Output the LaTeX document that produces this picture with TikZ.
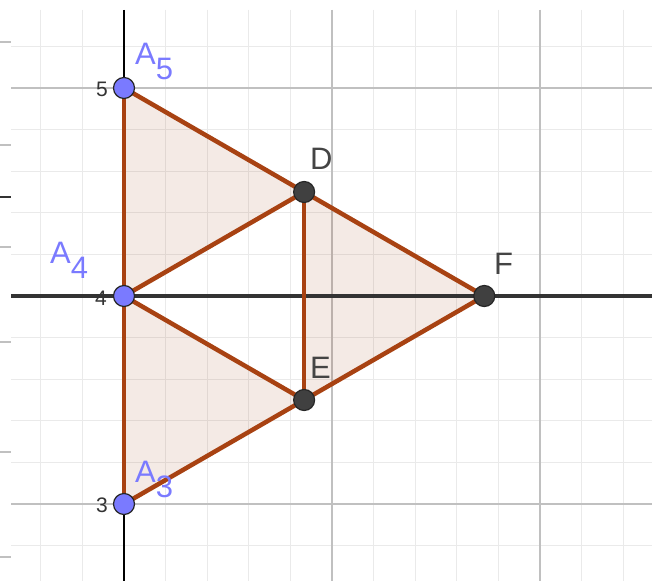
\documentclass[tikz,border=0pt]{standalone}
\usepackage{fontspec}
\setmainfont{Liberation Sans}
\definecolor{minorc}{RGB}{234,234,234}
\definecolor{majorc}{RGB}{192,192,192}
\definecolor{edgec}{RGB}{168,66,18}
\definecolor{fillc}{RGB}{153,51,0}
\definecolor{bluec}{RGB}{122,122,255}
\definecolor{ptdark}{RGB}{64,64,64}
\definecolor{labc}{RGB}{68,68,68}
\begin{document}
\begin{tikzpicture}[x=1bp,y=-1bp,
  minorgrid/.style={draw=minorc,line width=0.9bp},
  majorgrid/.style={draw=majorc,line width=1.3bp},
  stripmark/.style={draw=majorc,line width=1.3bp},
  darkmark/.style={draw=black!80,line width=2bp},
  axisline/.style={draw=black,line width=1.5bp},
  hline/.style={draw=black!80,line width=3.5bp},
  polyfill/.style={fill=fillc,fill opacity=0.1},
  edge/.style={draw=edgec,line width=4.5bp,line join=round,line cap=round},
  bluept/.style={circle,fill=bluec,draw=black!85,line width=1.2bp,minimum size=21bp,inner sep=0pt},
  darkpt/.style={circle,fill=ptdark,draw=black!85,line width=1.2bp,minimum size=21bp,inner sep=0pt},
  ptlab/.style={anchor=base west,inner sep=0pt,font=\fontsize{31bp}{31bp}\selectfont},
  ticklab/.style={anchor=east,inner sep=0pt,text=black!80,font=\fontsize{21bp}{21bp}\selectfont}]
\useasboundingbox (0,0) rectangle (652,581);
\fill[white] (0,0) rectangle (652,581);
% grid
\begin{scope}
\clip (11,10) rectangle (652,581);
\foreach \k in {-2,...,12} \draw[minorgrid] ({124+41.6*\k},10) -- ({124+41.6*\k},581);
\foreach \k in {-6,...,6} \draw[minorgrid] (11,{296+41.6*\k}) -- (652,{296+41.6*\k});
\foreach \xx in {332,540} \draw[majorgrid] (\xx,10) -- (\xx,581);
\foreach \yy in {88,504} \draw[majorgrid] (11,\yy) -- (652,\yy);
\end{scope}
% stray marks at left edge
\foreach \yy in {42,145,247,342,452,557} \draw[stripmark] (0,\yy) -- (11,\yy);
\draw[darkmark] (0,197) -- (11,197);
% y-axis
\coordinate (axtop) at (124,10);
\coordinate (axbot) at (124,581);
\draw[axisline] (axtop) -- (axbot);
% points
\coordinate (pA5) at (124,88);
\coordinate (pA4) at (124,296);
\coordinate (pA3) at (124,504);
\coordinate (pD) at (304.13,192);
\coordinate (pE) at (304.13,400);
\coordinate (pF) at (484.27,296);
% fills
\fill[polyfill] (pA5) -- (pA4) -- (pD) -- cycle;
\fill[polyfill] (pD) -- (pE) -- (pF) -- cycle;
\fill[polyfill] (pA4) -- (pE) -- (pA3) -- cycle;
% line y=4
\coordinate (hl) at (11,296);
\coordinate (hr) at (652,296);
\draw[hline] (hl) -- (hr);
% edges
\draw[edge] (pA5) -- (pA3);
\draw[edge] (pA5) -- (pF);
\draw[edge] (pA3) -- (pF);
\draw[edge] (pA4) -- (pD);
\draw[edge] (pA4) -- (pE);
\draw[edge] (pD) -- (pE);
% point markers
\node[bluept] (A5) at (pA5) {};
\node[bluept] (A4) at (pA4) {};
\node[bluept] (A3) at (pA3) {};
\node[darkpt] (D) at (pD) {};
\node[darkpt] (E) at (pE) {};
\node[darkpt] (F) at (pF) {};
% tick labels
\node[ticklab] (t5) at (108,89) {5};
\node[ticklab] (t4) at (107,298) {4};
\node[ticklab] (t3) at (108,505) {3};
% point labels
\node[ptlab,text=bluec] (lA5) at (135,65) {A\raisebox{-15bp}{5}};
\node[ptlab,text=bluec] (lA4) at (50,263) {A\raisebox{-15bp}{4}};
\node[ptlab,text=bluec] (lA3) at (135,482) {A\raisebox{-15bp}{3}};
\node[ptlab,text=labc] (lD) at (310,170) {D};
\node[ptlab,text=labc] (lE) at (310,378) {E};
\node[ptlab,text=labc] (lF) at (494,274) {F};
\end{tikzpicture}
\end{document}
